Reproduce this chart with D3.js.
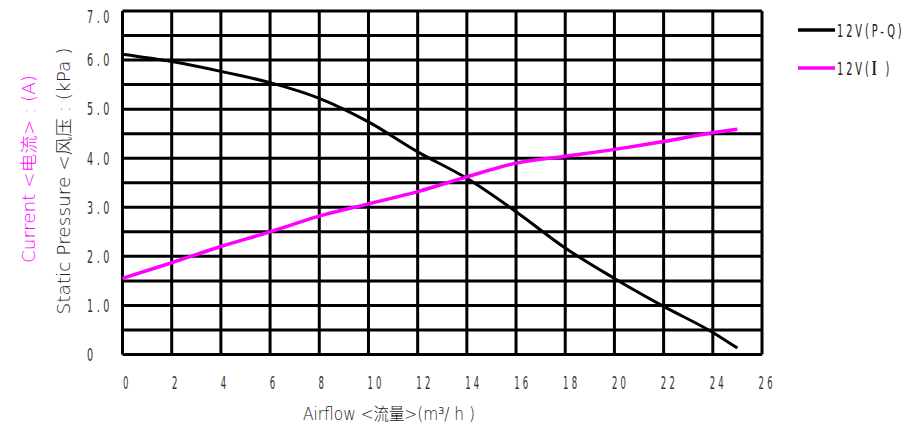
<!DOCTYPE html>
<html>
<head>
<meta charset="utf-8">
<script src="https://cdn.jsdelivr.net/npm/d3@7"></script>
<style>
  body { margin: 0; background: #fff; }
  text { font-family: "DejaVu Sans", "Noto Sans CJK SC", sans-serif; }
</style>
</head>
<body>
<div id="grafico"></div>
<script>
// Dados (vazão m3/h)
const vazao = [0, 2, 4, 6, 8, 10, 12, 14, 16, 18, 20, 22, 24, 25];
// Pressão estática 12V (P-Q), kPa
const pressao = [6.12, 5.97, 5.77, 5.54, 5.22, 4.74, 4.13, 3.59, 2.91, 2.17, 1.55, 0.98, 0.45, 0.13];
// Corrente 12V (I), A
const corrente = [1.55, 1.87, 2.2, 2.5, 2.82, 3.07, 3.32, 3.62, 3.9, 4.04, 4.18, 4.34, 4.52, 4.59];

const ticksX = [0, 2, 4, 6, 8, 10, 12, 14, 16, 18, 20, 22, 24, 26];
const ticksY = [0, 1, 2, 3, 4, 5, 6, 7];
const rotulosY = ["0", "1.0", "2.0", "3.0", "4.0", "5.0", "6.0", "7.0"];
const gradeY = d3.range(0, 7.01, 0.5);

const legenda = [
  { nome: "12V(P-Q)", cor: "#000000" },
  { nome: "12V(", extra: "I", fim: " )", cor: "#ff00ff" }
];

const largura = 918, altura = 428;
const margem = { top: 11, right: 156, bottom: 73.5, left: 122.5 };

const svg = d3.select("#grafico").append("svg")
  .attr("width", largura)
  .attr("height", altura);

const eixoX = d3.scaleLinear().domain([0, 26]).range([margem.left, largura - margem.right]);
const eixoY = d3.scaleLinear().domain([0, 7]).range([altura - margem.bottom, margem.top]);

// Grade
const grade = svg.append("g").attr("stroke", "#000").attr("stroke-width", 3);
grade.selectAll("line.h")
  .data(gradeY)
  .join("line")
    .attr("class", "h")
    .attr("x1", eixoX(0)).attr("x2", eixoX(26))
    .attr("y1", d => eixoY(d)).attr("y2", d => eixoY(d));
grade.selectAll("line.v")
  .data(ticksX)
  .join("line")
    .attr("class", "v")
    .attr("y1", eixoY(0)).attr("y2", eixoY(7))
    .attr("x1", d => eixoX(d)).attr("x2", d => eixoX(d));

// Eixo X (rótulos)
const gX = svg.append("g")
  .attr("transform", `translate(0,${eixoY(0)})`)
  .call(d3.axisBottom(eixoX).tickValues(ticksX).tickSize(0).tickFormat(d3.format("d")));
gX.select(".domain").remove();
gX.selectAll(".tick").each(function(d) {
  d3.select(this).attr("transform", `translate(${eixoX(d) + 0.5 - d * 0.15},0)`);
});
gX.selectAll("text")
  .attr("fill", "#333")
  .attr("font-size", 18.5)
  .attr("text-anchor", "start")
  .attr("x", 0)
  .attr("y", 34.5)
  .attr("dy", 0)
  .attr("letter-spacing", 7)
  .attr("transform", "scale(0.46,1)");

// Eixo Y (rótulos)
const gY = svg.append("g")
  .attr("transform", `translate(${eixoX(0)},0)`)
  .call(d3.axisLeft(eixoY).tickValues(ticksY).tickSize(0).tickFormat((d, i) => rotulosY[i]));
gY.select(".domain").remove();
gY.selectAll(".tick").each(function(d) {
  d3.select(this).attr("transform", `translate(0,${Math.max(eixoY(d), 17)})`);
});
gY.selectAll("text")
  .attr("fill", "#333")
  .attr("font-size", 17.5)
  .attr("text-anchor", "start")
  .attr("x", 0)
  .attr("dy", "0.36em")
  .attr("letter-spacing", 6.5)
  .attr("transform", "translate(-35.5,0) scale(0.55,1)");

// Curvas
const linha = (valores) => d3.line()
  .x((d, i) => eixoX(vazao[i]))
  .y(d => eixoY(d))
  .curve(d3.curveMonotoneX)(valores);

svg.append("path")
  .attr("d", linha(pressao))
  .attr("fill", "none")
  .attr("stroke", "#000")
  .attr("stroke-width", 3);

svg.append("path")
  .attr("d", linha(corrente))
  .attr("fill", "none")
  .attr("stroke", "#ff00ff")
  .attr("stroke-width", 3.5);

// Títulos dos eixos
svg.append("text")
  .attr("transform", "translate(70,181) rotate(-90)")
  .attr("text-anchor", "middle")
  .attr("font-size", 17)
  .attr("font-weight", 300)
  .attr("fill", "#222")
  .attr("textLength", 267)
  .attr("lengthAdjust", "spacingAndGlyphs")
  .text("Static   Pressure   <风压 : (kPa )");

svg.append("text")
  .attr("transform", "translate(35,169) rotate(-90)")
  .attr("text-anchor", "middle")
  .attr("font-size", 17)
  .attr("font-weight", 300)
  .attr("fill", "#ff00ff")
  .attr("textLength", 188)
  .attr("lengthAdjust", "spacingAndGlyphs")
  .text("Current   <电流> : (A)");

svg.append("text")
  .attr("x", 303)
  .attr("y", 420)
  .attr("font-size", 17)
  .attr("font-weight", 300)
  .attr("fill", "#222")
  .attr("textLength", 172)
  .attr("lengthAdjust", "spacingAndGlyphs")
  .text("Airflow <流量>(m³/ h )");

// Legenda
const itens = svg.append("g").selectAll("g")
  .data(legenda)
  .join("g")
    .attr("transform", (d, i) => `translate(798,${30 + i * 38})`);
itens.append("line")
  .attr("x1", 0).attr("x2", 37)
  .attr("stroke", d => d.cor)
  .attr("stroke-width", 3.5);
const rotLeg = itens.append("text")
  .attr("x", 0)
  .attr("y", 7)
  .attr("font-size", 17)
  .attr("fill", "#222")
  .attr("letter-spacing", 5)
  .attr("transform", "translate(39,0) scale(0.58,1)");
rotLeg.append("tspan").text(d => d.nome);
rotLeg.filter(d => d.extra).append("tspan")
  .attr("font-family", "DejaVu Serif")
  .attr("font-weight", "bold")
  .attr("font-size", 18)
  .text(d => d.extra);
rotLeg.filter(d => d.fim).append("tspan").text(d => d.fim);
</script>
</body>
</html>
